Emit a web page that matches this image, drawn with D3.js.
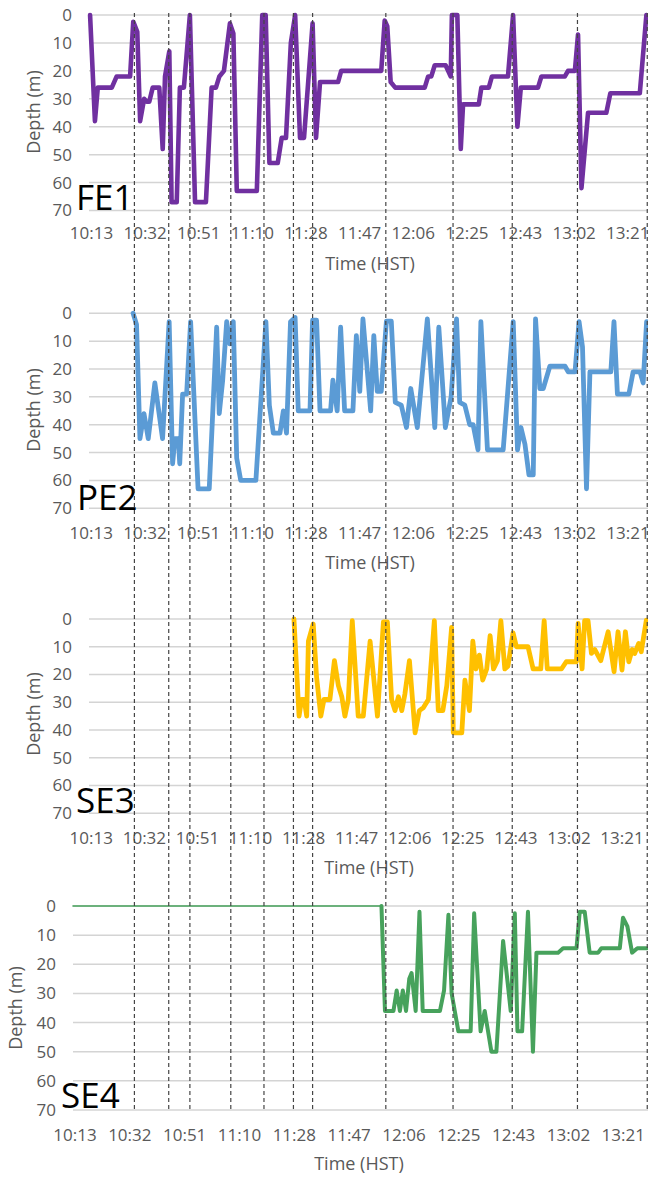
<!DOCTYPE html>
<html lang="en">
  <head>
    <meta charset="UTF-8" />
    <title>Dive depth profiles</title>
    <script src="https://cdnjs.cloudflare.com/ajax/libs/d3/7.8.5/d3.min.js"></script>
    <style>
      body {
        margin: 0;
        background: #fff;
      }
      text {
        font-family: "Open Sans", sans-serif;
      }
      .tick-label {
        font-size: 17px;
        fill: #595959;
      }
      .axis-title {
        font-size: 18px;
        fill: #595959;
      }
      .panel-name {
        font-size: 35px;
        fill: #000;
      }
      .grid {
        stroke: #d4d4d4;
        stroke-width: 1.5;
      }
      .marker {
        stroke: #454545;
        stroke-width: 1.2;
        stroke-dasharray: 4, 3;
      }
      .dive {
        fill: none;
        stroke-linejoin: round;
        stroke-linecap: round;
      }
    </style>
  </head>
  <body>
    <div id="chart"></div>
    <script>
      // time values are minutes after 10:00 (HST)
      const tickLabels = ["10:13", "10:32", "10:51", "11:10", "11:28", "11:47",
        "12:06", "12:25", "12:43", "13:02", "13:21"];
      const tickStart = 13.4;
      const tickStep = 18.75;
      const depthTicks = [0, 10, 20, 30, 40, 50, 60, 70];

      // dashed reference lines (surfacing events)
      const markerTimes = [28.4, 40.4, 47.8, 62.1, 73.7, 84.0, 90.7, 116.3,
        139.8, 160.5, 183.3, 207.7];

      // [time, depth (m)]
      const fe1 = [
        [12.9, 0], [14.6, 38], [15.6, 26], [20.5, 26], [22.2, 22], [26.9, 22],
        [28.0, 2.4], [29.4, 6], [30.4, 38], [31.8, 30], [32.7, 31], [33.6, 31],
        [34.8, 26], [37.1, 26], [38.3, 48], [39.1, 22], [40.6, 13], [41.4, 67],
        [43.2, 67], [44.3, 26], [45.7, 26], [47.8, 0], [49.6, 67], [53.4, 67],
        [55.4, 26], [56.9, 26], [58.1, 22], [59.7, 20], [61.8, 3], [63.0, 6.6],
        [64.2, 63], [71.2, 63], [73.1, 0], [74.3, 0], [75.6, 53], [78.5, 53],
        [79.9, 44], [81.4, 44], [83.1, 10], [84.6, 0], [86.3, 44], [87.7, 44],
        [90.7, 3], [91.9, 44], [93.3, 24], [99.6, 24], [100.7, 20], [114.7, 20],
        [115.9, 2], [116.8, 4], [118.0, 24], [119.6, 26], [129.9, 26], [131.1, 22],
        [132.2, 22], [133.4, 18], [137.2, 18], [139.0, 22], [139.4, 0], [141.3, 0],
        [142.5, 48], [143.3, 32], [148.8, 32], [149.7, 26], [152.3, 26], [153.4, 22],
        [159.0, 22], [160.8, 0], [162.3, 40], [163.5, 26], [169.5, 26], [170.7, 22],
        [178.9, 22], [180.0, 20], [182.4, 20], [183.5, 7], [184.7, 62], [187.0, 35],
        [193.4, 35], [194.8, 28], [205.1, 28], [207.4, 0]
      ];

      const pe2 = [
        [28.0, 0], [29.2, 4], [30.4, 45], [31.8, 36], [33.3, 45], [35.6, 25],
        [38.3, 45], [40.6, 3], [41.8, 54], [42.6, 45], [43.8, 45], [44.3, 54],
        [45.3, 29], [46.7, 29], [48.1, 3], [50.7, 63], [54.6, 63], [57.2, 5],
        [58.1, 36], [59.3, 24], [60.7, 3], [61.8, 11], [63.0, 3], [64.2, 52],
        [65.6, 60], [70.9, 60], [74.4, 3], [75.6, 33], [77.0, 43], [79.3, 43],
        [80.5, 35], [81.6, 43], [83.0, 3], [84.6, 1.5], [85.7, 35], [89.8, 35],
        [90.7, 2.5], [92.1, 2.5], [93.3, 35], [97.0, 35], [97.8, 24], [99.3, 35],
        [100.5, 5], [101.9, 35], [104.8, 35], [106.0, 8], [107.2, 28], [108.3, 2],
        [111.0, 35], [112.1, 8], [113.3, 28], [114.7, 28], [116.5, 2.8], [118.2, 2.8],
        [119.6, 32], [121.7, 33], [123.5, 41], [125.0, 27], [127.3, 41], [130.8, 2],
        [133.4, 41], [134.8, 5], [137.1, 41], [139.1, 30], [141.0, 2], [142.1, 32],
        [143.9, 33], [145.6, 40], [146.8, 40], [148.5, 49], [149.5, 3], [151.8, 49],
        [157.3, 49], [160.8, 3], [162.3, 49], [163.5, 41], [164.9, 47], [166.3, 58],
        [167.8, 58], [168.6, 2], [170.1, 27], [171.3, 27], [173.6, 19], [178.9, 19],
        [180.0, 21], [182.4, 21], [183.8, 3], [185.0, 12], [186.4, 63], [187.6, 21],
        [194.9, 21], [196.0, 3], [197.2, 29], [201.2, 29], [202.7, 21], [205.1, 21],
        [206.2, 25], [207.4, 3]
      ];

      const se3 = [
        [85.0, 0], [86.8, 35], [87.7, 29], [88.6, 29], [89.5, 35], [90.1, 8],
        [91.8, 1.8], [93.0, 21], [94.5, 35], [95.6, 29], [97.7, 29], [99.3, 15],
        [100.7, 24], [101.9, 28], [103.0, 35], [104.2, 29], [105.6, 0.6], [107.7, 35],
        [109.5, 35], [111.9, 8], [114.5, 35], [116.6, 1], [118.0, 1], [119.5, 29],
        [120.7, 33], [121.9, 28], [123.1, 33], [124.2, 27], [125.8, 15], [127.8, 41],
        [129.3, 33], [130.7, 32], [132.5, 29], [134.6, 0.6], [136.0, 33], [137.6, 33],
        [139.0, 24], [140.7, 3], [141.3, 41], [144.3, 41], [145.4, 22], [147.0, 33],
        [148.2, 8], [149.3, 18], [150.5, 13], [151.7, 22], [153.1, 18], [154.3, 6],
        [155.5, 18], [156.9, 15], [158.1, 0.6], [159.5, 18], [160.6, 17], [162.4, 5],
        [163.6, 10], [167.7, 10], [169.5, 18], [172.2, 18], [173.4, 0.6], [174.5, 18],
        [179.5, 18], [181.2, 15.4], [184.8, 15.4], [185.4, 1.6], [186.8, 18], [187.7, 0.6],
        [188.9, 0.6], [190.1, 12.4], [191.3, 11], [193.4, 15], [196.0, 4.6], [198.1, 19],
        [199.5, 4.6], [200.9, 18.4], [202.1, 4.6], [203.3, 15.4], [204.5, 11], [205.4, 12.4],
        [206.8, 8.8], [207.7, 11.8], [209.5, 0.4]
      ];

      // SE4: no record before tagging (thin line at surface)
      const se4Pre = [[12.7, 0], [118.2, 0]];
      const se4 = [
        [118.2, 0], [119.4, 36], [122.3, 36], [123.4, 29], [124.5, 36], [125.5, 29],
        [126.6, 36], [127.7, 25], [128.5, 23], [129.9, 36], [131.2, 2], [132.3, 36],
        [138.2, 36], [139.6, 29], [141.1, 3], [142.2, 30], [144.5, 43], [148.7, 43],
        [149.9, 2.5], [152.1, 43], [153.5, 36], [155.8, 50], [157.5, 50], [159.8, 12],
        [162.4, 36], [163.8, 2.5], [164.7, 43], [166.3, 43], [168.3, 2], [170.0, 50],
        [171.2, 16], [178.6, 16], [180.3, 14.5], [184.9, 14.5], [186.0, 2], [187.7, 2],
        [189.4, 16], [192.3, 16], [193.4, 14.5], [199.7, 14.5], [200.8, 4], [202.3, 7],
        [203.9, 16], [205.7, 14.5], [208.8, 14.5]
      ];

      const W = 648;
      const H = 1177;

      // layout of each stacked panel (pixels)
      const panels = [
        { name: "FE1", series: [{ data: fe1, w: 4.6 }], color: "#7030A0",
          top: 15, bottom: 210.5, gridLeft: 89, x0: 91.5, span: 536.3,
          yLabX: 72, tickY: 239, titleY: 270, titleX: 370, depthX: 40, depthY: 112, nameX: 76, nameY: 210 },
        { name: "PE2", series: [{ data: pe2, w: 4.8 }], color: "#5B9BD5",
          top: 313.3, bottom: 508.3, gridLeft: 89, x0: 91.3, span: 536.7,
          yLabX: 72, tickY: 539, titleY: 569, titleX: 370, depthX: 40, depthY: 410, nameX: 77, nameY: 510 },
        { name: "SE3", series: [{ data: se3, w: 4.8 }], color: "#FFC000",
          top: 619, bottom: 813.3, gridLeft: 89, x0: 91.3, span: 530.7,
          yLabX: 72, tickY: 844, titleY: 874, titleX: 369, depthX: 40, depthY: 714, nameX: 76, nameY: 813 },
        { name: "SE4", series: [{ data: se4Pre, w: 1.5 }, { data: se4, w: 4 }], color: "#47A25C",
          top: 906, bottom: 1110, gridLeft: 73, x0: 75, span: 548.3,
          yLabX: 56, tickY: 1141, titleY: 1170, titleX: 359, depthX: 22, depthY: 1008, nameX: 61, nameY: 1108 }
      ];

      const svg = d3
        .select("#chart")
        .append("svg")
        .attr("width", W)
        .attr("height", H);

      const tickTimes = tickLabels.map((d, i) => tickStart + i * tickStep);

      panels.forEach((p) => {
        const x = d3
          .scaleLinear()
          .domain([tickStart, tickStart + 10 * tickStep])
          .range([p.x0, p.x0 + p.span]);
        const y = d3.scaleLinear().domain([0, 70]).range([p.top, p.bottom]);

        const g = svg.append("g");

        // horizontal gridlines
        g.selectAll(".grid")
          .data(depthTicks)
          .enter()
          .append("line")
          .attr("class", "grid")
          .attr("x1", p.gridLeft)
          .attr("x2", W)
          .attr("y1", (d) => y(d))
          .attr("y2", (d) => y(d));

        // depth tick labels
        g.selectAll(".ylab")
          .data(depthTicks)
          .enter()
          .append("text")
          .attr("class", "tick-label")
          .attr("x", p.yLabX)
          .attr("y", (d) => y(d))
          .attr("dy", "0.35em")
          .attr("text-anchor", "end")
          .text((d) => d);

        // time tick labels
        g.selectAll(".xlab")
          .data(tickTimes)
          .enter()
          .append("text")
          .attr("class", "tick-label")
          .attr("x", (d) => x(d))
          .attr("y", p.tickY)
          .attr("text-anchor", "middle")
          .text((d, i) => tickLabels[i]);

        g.append("text")
          .attr("class", "axis-title")
          .attr("x", p.titleX)
          .attr("y", p.titleY)
          .attr("text-anchor", "middle")
          .text("Time (HST)");

        g.append("text")
          .attr("class", "axis-title")
          .attr("transform", `translate(${p.depthX},${p.depthY}) rotate(-90)`)
          .attr("text-anchor", "middle")
          .text("Depth (m)");

        const line = d3
          .line()
          .x((d) => x(d[0]))
          .y((d) => y(d[1]));

        p.series.forEach((s) => {
          g.append("path")
            .attr("class", "dive")
            .attr("d", line(s.data))
            .attr("stroke", p.color)
            .attr("stroke-width", s.w);
        });

        g.append("text")
          .attr("class", "panel-name")
          .attr("x", p.nameX)
          .attr("y", p.nameY)
          .text(p.name);
      });

      // dashed lines across all panels, placed with the top panel's time scale
      const xTop = d3
        .scaleLinear()
        .domain([tickStart, tickStart + 10 * tickStep])
        .range([panels[0].x0, panels[0].x0 + panels[0].span]);

      svg
        .selectAll(".marker")
        .data(markerTimes)
        .enter()
        .append("line")
        .attr("class", "marker")
        .attr("x1", (d) => xTop(d))
        .attr("x2", (d) => xTop(d))
        .attr("y1", 13)
        .attr("y2", panels[3].bottom);
    </script>
  </body>
</html>
